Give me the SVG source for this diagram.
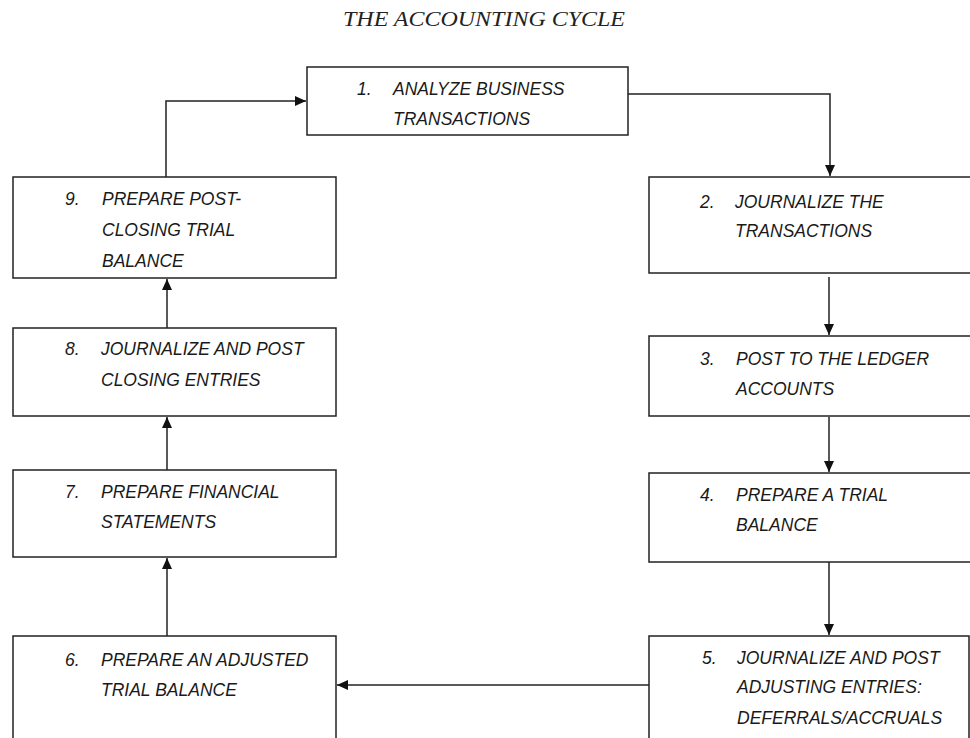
<svg xmlns="http://www.w3.org/2000/svg" width="970" height="738" viewBox="0 0 970 738">
<style>
.box{fill:#fff;stroke:#222;stroke-width:1.5}
.t{font-family:"Liberation Sans",Arial,sans-serif;font-style:italic;font-size:17.5px;fill:#1a1a1a}
.title{font-family:"Liberation Serif","Times New Roman",serif;font-style:italic;font-size:21px;fill:#222}
.c{fill:none;stroke:#222;stroke-width:1.5}
</style>
<defs>
<marker id="ah" markerUnits="userSpaceOnUse" markerWidth="11" markerHeight="10" refX="11" refY="5" orient="auto">
<path d="M0,0 L11,5 L0,10 z" fill="#111"/>
</marker>
</defs>
<rect width="970" height="738" fill="#fff"/>
<text class="title" x="343" y="26" textLength="282" lengthAdjust="spacingAndGlyphs">THE ACCOUNTING CYCLE</text>

<g id="connectors">
<path class="c" d="M628,94 H830 V176" marker-end="url(#ah)"/>
<path class="c" d="M829,277 V335" marker-end="url(#ah)"/>
<path class="c" d="M829,417 V472" marker-end="url(#ah)"/>
<path class="c" d="M829,562 V635" marker-end="url(#ah)"/>
<path class="c" d="M649,685 H337" marker-end="url(#ah)"/>
<path class="c" d="M167,636 V558" marker-end="url(#ah)"/>
<path class="c" d="M167,470 V417" marker-end="url(#ah)"/>
<path class="c" d="M167,328 V279" marker-end="url(#ah)"/>
<path class="c" d="M166,177 V101 H306" marker-end="url(#ah)"/>
</g>

<g id="n1">
<rect class="box" x="307" y="67" width="321" height="68"/>
<text class="t" x="357" y="95">1.</text>
<text class="t" x="393" y="95">ANALYZE BUSINESS</text>
<text class="t" x="393" y="125">TRANSACTIONS</text>
</g>
<g id="n2">
<rect class="box" x="649" y="177" width="330" height="96"/>
<text class="t" x="700" y="208">2.</text>
<text class="t" x="735" y="208">JOURNALIZE THE</text>
<text class="t" x="735" y="237">TRANSACTIONS</text>
</g>
<g id="n3">
<rect class="box" x="649" y="336" width="330" height="80"/>
<text class="t" x="700" y="365">3.</text>
<text class="t" x="736" y="365">POST TO THE LEDGER</text>
<text class="t" x="736" y="395">ACCOUNTS</text>
</g>
<g id="n4">
<rect class="box" x="649" y="473" width="330" height="89"/>
<text class="t" x="700" y="501">4.</text>
<text class="t" x="736" y="501">PREPARE A TRIAL</text>
<text class="t" x="736" y="531">BALANCE</text>
</g>
<g id="n5">
<rect class="box" x="649" y="636" width="320" height="120"/>
<text class="t" x="702" y="664">5.</text>
<text class="t" x="737" y="664">JOURNALIZE AND POST</text>
<text class="t" x="737" y="693">ADJUSTING ENTRIES:</text>
<text class="t" x="737" y="724">DEFERRALS/ACCRUALS</text>
</g>
<g id="n6">
<rect class="box" x="13" y="636" width="323" height="120"/>
<text class="t" x="65" y="666">6.</text>
<text class="t" x="101" y="666">PREPARE AN ADJUSTED</text>
<text class="t" x="101" y="696">TRIAL BALANCE</text>
</g>
<g id="n7">
<rect class="box" x="13" y="470" width="323" height="87"/>
<text class="t" x="65" y="498">7.</text>
<text class="t" x="101" y="498">PREPARE FINANCIAL</text>
<text class="t" x="101" y="528">STATEMENTS</text>
</g>
<g id="n8">
<rect class="box" x="13" y="328" width="323" height="88"/>
<text class="t" x="65" y="355">8.</text>
<text class="t" x="101" y="355">JOURNALIZE AND POST</text>
<text class="t" x="101" y="386">CLOSING ENTRIES</text>
</g>
<g id="n9">
<rect class="box" x="13" y="177" width="323" height="101"/>
<text class="t" x="65" y="205">9.</text>
<text class="t" x="102" y="205">PREPARE POST-</text>
<text class="t" x="102" y="236">CLOSING TRIAL</text>
<text class="t" x="102" y="267">BALANCE</text>
</g>
</svg>
